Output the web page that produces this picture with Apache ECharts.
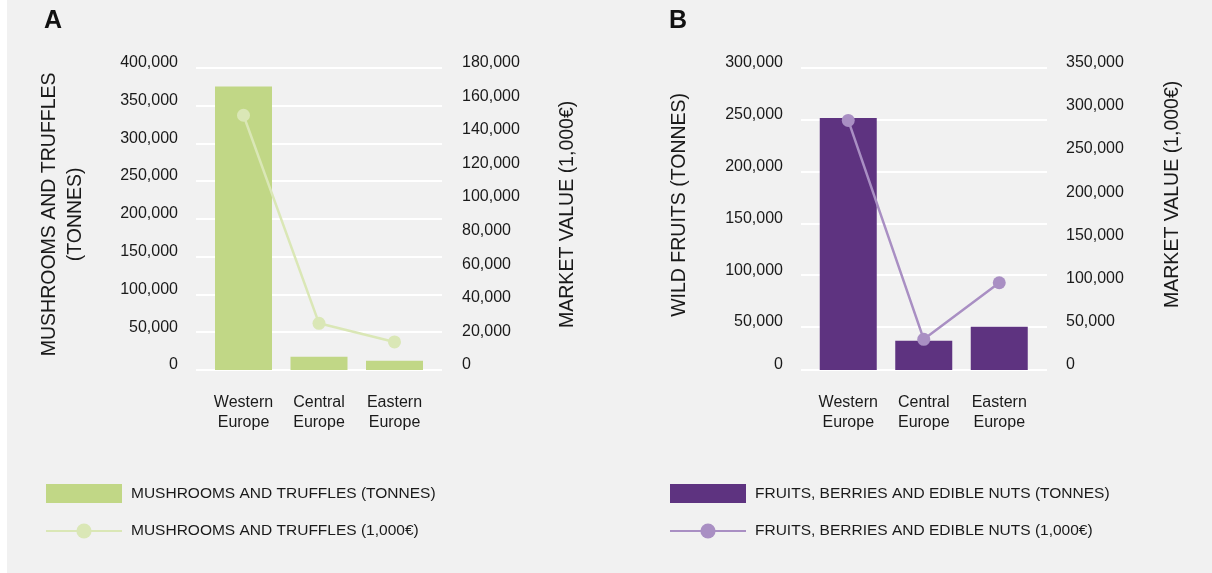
<!DOCTYPE html>
<html><head><meta charset="utf-8">
<script src="https://cdn.jsdelivr.net/npm/echarts@6/dist/echarts.min.js"></script>
<style>
html,body{margin:0;padding:0;background:#fff;}
#c{width:1212px;height:573px;background:linear-gradient(to right,#ffffff 0,#ffffff 7px,#f1f1f1 7px);}
</style></head><body><div id="c"></div>
<script>
// ---------- data ----------
const categories = ['Western\nEurope', 'Central\nEurope', 'Eastern\nEurope'];
const mushroomTonnes = [375000, 17600, 12300];
const mushroomValue = [151700, 27800, 16700];
const fruitTonnes = [250000, 29000, 43000];
const fruitValue = [289000, 35500, 101000];

const ticksALeft = ['0', '50,000', '100,000', '150,000', '200,000', '250,000', '300,000', '350,000', '400,000'];
const ticksARight = ['0', '20,000', '40,000', '60,000', '80,000', '100,000', '120,000', '140,000', '160,000', '180,000'];
const ticksBLeft = ['300,000', '250,000', '200,000', '150,000', '100,000', '50,000', '0']; // top to bottom
const ticksBRight = ['0', '50,000', '100,000', '150,000', '200,000', '250,000', '300,000', '350,000'];

const nameA1 = 'MUSHROOMS AND TRUFFLES (TONNES)';
const nameA2 = 'MUSHROOMS AND TRUFFLES (1,000€)';
const nameB1 = 'FRUITS, BERRIES AND EDIBLE NUTS (TONNES)';
const nameB2 = 'FRUITS, BERRIES AND EDIBLE NUTS (1,000€)';

// ---------- layout ----------
const FONT = '"Liberation Sans", Arial, Helvetica, sans-serif';
const TXT = '#1a1a1a';
const TOP = 67.7, H = 302.3;
const BG_W = 246, DATA_W = 226.5;
const A_BG_LEFT = 196, A_DATA_LEFT = 205.75;
const B_BG_LEFT = 801, B_DATA_LEFT = 810.5;
const B_STEP = 51.86; // spacing of the upper gridlines in panel B
const colBarA = '#c1d786', colLineA = '#dae7b6';
const colBarB = '#5e3380', colLineB = '#a98fc3';

const tickLabel = (arr, margin) => ({
  formatter: (v, i) => arr[i],
  margin: margin, fontSize: 16, color: TXT, fontFamily: FONT,
  verticalAlign: 'bottom', lineHeight: 10
});
const nameStyle = (shift) => ({
  fontSize: 19.5, lineHeight: 26, color: TXT, fontFamily: FONT,
  padding: [0, 0, 0, shift]
});
const split = { show: true, lineStyle: { color: '#ffffff', width: 2 } };
const catAxis = (gi) => ({
  gridIndex: gi, type: 'category', data: categories,
  axisLine: { show: false }, axisTick: { show: false },
  axisLabel: { interval: 0, margin: 23, fontSize: 16, lineHeight: 20, color: TXT, fontFamily: FONT }
});
const legendStyle = { fontSize: 15.5, lineHeight: 19, color: TXT, fontFamily: FONT, padding: [0, 0, 0, 4] };

const chart = echarts.init(document.getElementById('c'), null, { renderer: 'canvas' });
chart.setOption({
  animation: false,
  backgroundColor: 'transparent',
  textStyle: { fontFamily: FONT },
  title: [
    { text: 'A', left: 44, top: 9, padding: 0, textStyle: { fontSize: 25, fontWeight: 'bold', color: '#111', fontFamily: FONT } },
    { text: 'B', left: 669, top: 9, padding: 0, textStyle: { fontSize: 25, fontWeight: 'bold', color: '#111', fontFamily: FONT } }
  ],
  grid: [
    { left: A_BG_LEFT, top: TOP, width: BG_W, height: H },
    { left: A_DATA_LEFT, top: TOP, width: DATA_W, height: H },
    { left: B_BG_LEFT, top: TOP, width: BG_W, height: H },
    { left: B_DATA_LEFT, top: TOP, width: DATA_W, height: H }
  ],
  xAxis: [
    { gridIndex: 0, type: 'value', show: false, min: 0, max: 1 },
    catAxis(1),
    { gridIndex: 2, type: 'value', show: false, min: 0, max: 1 },
    catAxis(3)
  ],
  yAxis: [
    { gridIndex: 0, type: 'value', position: 'left', min: 0, max: 400000, interval: 50000,
      axisLine: { show: false }, axisTick: { show: false }, splitLine: split,
      axisLabel: tickLabel(ticksALeft, 18),
      name: 'MUSHROOMS AND TRUFFLES\n(TONNES)', nameLocation: 'middle', nameRotate: 90, nameGap: 107,
      nameTextStyle: nameStyle(9) },
    { gridIndex: 0, type: 'value', position: 'right', min: 0, max: 180000, interval: 20000,
      axisLine: { show: false }, axisTick: { show: false }, splitLine: { show: false },
      axisLabel: tickLabel(ticksARight, 20),
      name: 'MARKET VALUE (1,000€)', nameLocation: 'middle', nameRotate: 90, nameGap: 113,
      nameTextStyle: nameStyle(9) },
    { gridIndex: 1, type: 'value', show: false, min: 0, max: 400000 },
    { gridIndex: 1, type: 'value', show: false, min: 0, max: 180000, position: 'right' },
    { gridIndex: 2, type: 'value', position: 'left', inverse: true, min: 0, max: H / B_STEP, interval: 1,
      axisLine: { show: false }, axisTick: { show: false }, splitLine: split,
      axisLabel: tickLabel(ticksBLeft, 18),
      name: 'WILD FRUITS (TONNES)', nameLocation: 'middle', nameRotate: 90, nameGap: 108,
      nameTextStyle: nameStyle(28) },
    { gridIndex: 2, type: 'value', position: 'right', min: 0, max: 350000, interval: 50000,
      axisLine: { show: false }, axisTick: { show: false }, splitLine: { show: false },
      axisLabel: tickLabel(ticksBRight, 19),
      name: 'MARKET VALUE (1,000€)', nameLocation: 'middle', nameRotate: 90, nameGap: 113,
      nameTextStyle: nameStyle(49) },
    { gridIndex: 3, type: 'value', show: false, min: 0, max: 300000 },
    { gridIndex: 3, type: 'value', show: false, min: 0, max: 350000, position: 'right' }
  ],
  legend: [
    { data: [{ name: nameA1, icon: 'rect' }, { name: nameA2 }], orient: 'vertical', left: 45, top: 484, padding: 0,
      itemWidth: 76, itemHeight: 19, itemGap: 18.5, textStyle: legendStyle },
    { data: [{ name: nameB1, icon: 'rect' }, { name: nameB2 }], orient: 'vertical', left: 669, top: 484, padding: 0,
      itemWidth: 76, itemHeight: 19, itemGap: 18.5, textStyle: legendStyle }
  ],
  series: [
    { name: nameA1, type: 'bar', xAxisIndex: 1, yAxisIndex: 2, data: mushroomTonnes, barWidth: 57,
      itemStyle: { color: colBarA } },
    { name: nameA2, type: 'line', xAxisIndex: 1, yAxisIndex: 3, data: mushroomValue,
      symbol: 'circle', symbolSize: 13, lineStyle: { color: colLineA, width: 2.5 }, itemStyle: { color: colLineA } },
    { name: nameB1, type: 'bar', xAxisIndex: 3, yAxisIndex: 6, data: fruitTonnes, barWidth: 57,
      itemStyle: { color: colBarB } },
    { name: nameB2, type: 'line', xAxisIndex: 3, yAxisIndex: 7, data: fruitValue,
      symbol: 'circle', symbolSize: 13, lineStyle: { color: colLineB, width: 2.5 }, itemStyle: { color: colLineB } }
  ]
});
</script></body></html>
